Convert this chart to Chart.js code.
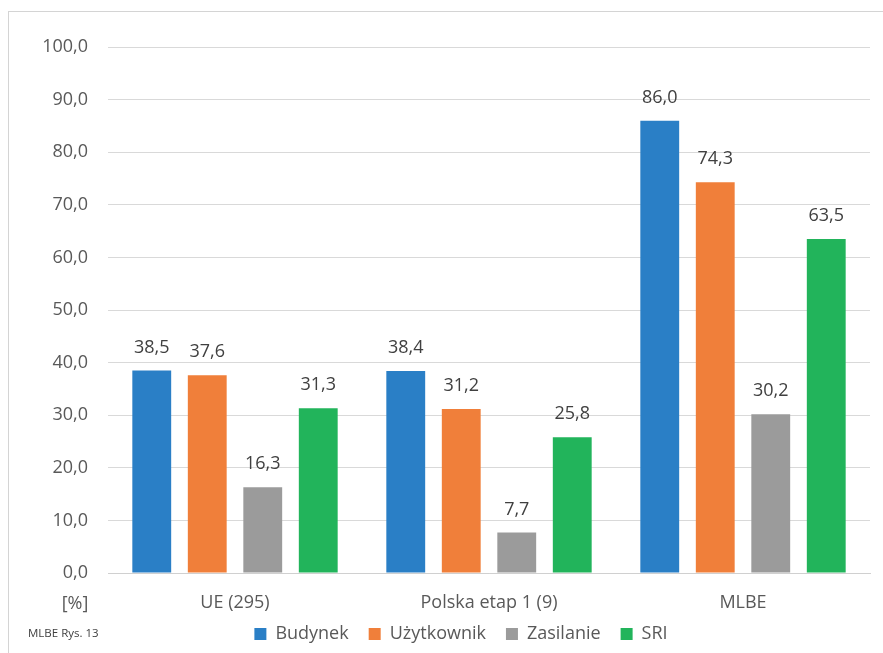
<!DOCTYPE html>
<html>
<head>
<meta charset="utf-8">
<style>
  html, body { margin: 0; padding: 0; background: #fff; }
  #wrap { position: relative; width: 883px; height: 653px; overflow: hidden; }
  #frame { position: absolute; left: 8px; top: 11px; width: 900px; height: 700px; border-left: 1px solid #d4d4d4; border-top: 1px solid #d4d4d4; }
  canvas { position: absolute; left: 0; top: 0; }
</style>
<script src="https://cdn.jsdelivr.net/npm/chart.js"></script>
</head>
<body>
<div id="wrap">
  <div id="frame"></div>
  <canvas id="chart" width="883" height="653"></canvas>
</div>
<script>
  // chart data
  const categories = ['UE (295)', 'Polska etap 1 (9)', 'MLBE'];
  const seriesNames = ['Budynek', 'Użytkownik', 'Zasilanie', 'SRI'];
  const budynek = [38.5, 38.4, 86.0];
  const uzytkownik = [37.6, 31.2, 74.3];
  const zasilanie = [16.3, 7.7, 30.2];
  const sri = [31.3, 25.8, 63.5];
  const colors = ['#2a7fc6', '#f07f3a', '#9b9b9b', '#22b45b'];

  const FONT = '"Open Sans", "DejaVu Sans", sans-serif';
  const fmt = v => Number(v).toFixed(1).replace('.', ',');

  // value labels above bars + small texts
  const extras = {
    id: 'extras',
    afterLayout(chart) {
      // nudge legend: a bit right of centre and up into the spare space
      const lg = chart.legend;
      if (lg) { lg.left += 6; lg.right += 6; lg.top -= 10; lg.bottom -= 10; }
    },
    afterDatasetsDraw(chart) {
      const ctx = chart.ctx;
      ctx.save();
      ctx.font = '18px ' + FONT;
      ctx.fillStyle = '#404040';
      ctx.textAlign = 'center';
      ctx.textBaseline = 'middle';
      chart.data.datasets.forEach((ds, i) => {
        chart.getDatasetMeta(i).data.forEach((bar, j) => {
          ctx.fillText(fmt(ds.data[j]), bar.x, bar.y - 23);
        });
      });
      ctx.fillStyle = '#595959';
      ctx.fillText('[%]', 75, 604);
      ctx.font = '11.5px ' + FONT;
      ctx.textAlign = 'left';
      ctx.fillStyle = '#404040';
      ctx.fillText('MLBE Rys. 13', 28, 634);
      ctx.restore();
    }
  };

  const seriesData = [budynek, uzytkownik, zasilanie, sri];

  new Chart(document.getElementById('chart'), {
    type: 'bar',
    data: {
      labels: categories,
      datasets: seriesNames.map((name, i) => ({
        label: name,
        data: seriesData[i],
        backgroundColor: colors[i],
        borderWidth: 0,
        categoryPercentage: 0.874,
        barPercentage: 0.70
      }))
    },
    options: {
      responsive: false,
      animation: false,
      layout: { padding: { left: 40, right: 13, top: 47, bottom: -10 } },
      plugins: {
        legend: {
          position: 'bottom',
          labels: {
            font: { family: FONT, size: 18 },
            color: '#595959',
            boxWidth: 12,
            boxHeight: 12,
            padding: 20
          }
        },
        tooltip: { enabled: false }
      },
      scales: {
        x: {
          grid: { display: false, drawTicks: false },
          border: { color: '#d0d0d0', width: 1 },
          ticks: { font: { family: FONT, size: 18 }, color: '#595959', padding: 19 },
          afterFit: s => { s.height = 42; }
        },
        y: {
          min: 0,
          max: 100,
          grid: { color: '#d9d9d9', drawTicks: false },
          border: { display: false },
          ticks: {
            stepSize: 10,
            font: { family: FONT, size: 18 },
            color: '#595959',
            padding: 20,
            callback: v => fmt(v)
          },
          afterFit: s => { s.width = 68; }
        }
      }
    },
    plugins: [extras]
  });
</script>
</body>
</html>
